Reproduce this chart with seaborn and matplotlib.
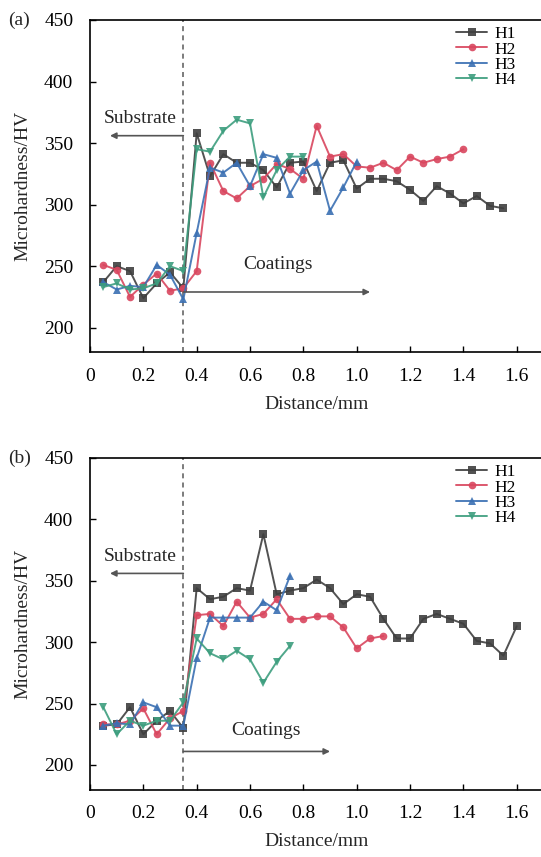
import numpy as np
import pandas as pd
import matplotlib
matplotlib.use("Agg")
import matplotlib.pyplot as plt
import seaborn as sns

# ---------------- data ----------------
series_names = ["H1", "H2", "H3", "H4"]

# panel (a)
a_H1 = [237, 250, 246, 224, 236, 245, 232, 358, 323, 341, 334, 334, 328, 314, 334, 335,
        311, 334, 336, 313, 321, 321, 319, 312, 303, 315, 309, 301, 307, 299, 297]
a_H2 = [251, 247, 225, 235, 244, 230, 232, 246, 334, 311, 305, 315, 321, 333, 329, 321,
        364, 339, 341, 331, 330, 334, 328, 339, 334, 337, 339, 345]
a_H3 = [237, 231, 234, 233, 251, 243, 223, 277, 330, 326, 334, 315, 341, 338, 309, 328,
        335, 295, 314, 335]
a_H4 = [233, 236, 231, 232, 236, 250, 246, 345, 343, 360, 369, 366, 306, 328, 339, 339]

# panel (b)
b_H1 = [232, 233, 247, 225, 236, 244, 230, 344, 335, 337, 344, 342, 388, 339, 342, 344,
        351, 344, 331, 339, 337, 319, 303, 303, 319, 323, 319, 315, 301, 299, 289, 313]
b_H2 = [233, 233, 236, 246, 225, 238, 244, 322, 323, 313, 333, 320, 323, 335, 319, 319,
        321, 321, 312, 295, 303, 305]
b_H3 = [232, 234, 233, 251, 247, 232, 232, 287, 320, 320, 320, 320, 333, 326, 354]
b_H4 = [247, 225, 236, 232, 236, 236, 251, 303, 291, 286, 293, 286, 267, 284, 297]

step = 0.05  # measuring interval (mm)
boundary = 0.35
x_ticks = [0, 0.2, 0.4, 0.6, 0.8, 1.0, 1.2, 1.4, 1.6]
x_tick_labels = ["0", "0.2", "0.4", "0.6", "0.8", "1.0", "1.2", "1.4", "1.6"]
y_ticks = [200, 250, 300, 350, 400, 450]

panels = {"(a)": [a_H1, a_H2, a_H3, a_H4], "(b)": [b_H1, b_H2, b_H3, b_H4]}


def to_frame(values_list):
    rows = []
    for name, vals in zip(series_names, values_list):
        for i, v in enumerate(vals):
            rows.append({"Distance": round(step * (i + 1), 3), "HV": v, "series": name})
    return pd.DataFrame(rows)


# ---------------- style ----------------
sns.set_style("ticks")
plt.rcParams["font.family"] = ["Liberation Serif", "DejaVu Serif"]
plt.rcParams["xtick.direction"] = "in"
plt.rcParams["ytick.direction"] = "in"

palette = {"H1": "#3f3f3f", "H2": "#d9465e", "H3": "#3b70b3", "H4": "#3d9e7e"}
markers = {"H1": "s", "H2": "o", "H3": "^", "H4": "v"}

W, H = 541, 857
fig = plt.figure(figsize=(W / 100, H / 100), dpi=100)

axes_px = {"(a)": (20, 352.3), "(b)": (458, 789.5)}
left_px = 90
px_per_unit = 266.7

annot = {
    "(a)": dict(sub_y=356, coat_text=(0.705, 251), coat_arrow_y=229, coat_head=1.05),
    "(b)": dict(sub_y=356, coat_text=(0.66, 228), coat_arrow_y=211, coat_head=0.90),
}

for tag, vals in panels.items():
    top, bot = axes_px[tag]
    xmax = 1.7
    ax = fig.add_axes([left_px / W, (H - bot) / H, xmax * px_per_unit / W, (bot - top) / H])
    df = to_frame(vals)
    sns.lineplot(data=df, x="Distance", y="HV", hue="series", style="series",
                 palette=palette, markers=markers, dashes=False, ax=ax,
                 linewidth=1.4, markersize=5.5, markeredgewidth=0, alpha=0.9)
    ax.set_xlim(0, xmax)
    ax.set_ylim(180, 450)
    ax.set_xticks(x_ticks)
    ax.set_xticklabels(x_tick_labels)
    ax.set_yticks(y_ticks)
    ax.tick_params(labelsize=14, length=4, width=1, colors="black")
    ax.tick_params(axis="y", pad=12)
    ax.tick_params(axis="x", pad=11)
    for s in ["left", "bottom", "top"]:
        ax.spines[s].set_linewidth(1.2)
        ax.spines[s].set_color("black")
    ax.spines["right"].set_visible(False)
    ax.set_xlabel("Distance/mm", fontsize=14, labelpad=8)
    ax.set_ylabel("Microhardness/HV", fontsize=14, labelpad=9)

    ax.axvline(boundary, color="#666666", lw=1.2, ls=(0, (3, 2.5)), zorder=0)

    a = annot[tag]
    ax.annotate("", xy=(0.075, a["sub_y"]), xytext=(boundary, a["sub_y"]),
                arrowprops=dict(arrowstyle="-|>", color="#555555", lw=1.2,
                                mutation_scale=9, shrinkA=0, shrinkB=0))
    ax.text(0.19, a["sub_y"] + 14, "Substrate", fontsize=14, ha="center", va="center")
    ax.annotate("", xy=(a["coat_head"], a["coat_arrow_y"]), xytext=(boundary, a["coat_arrow_y"]),
                arrowprops=dict(arrowstyle="-|>", color="#555555", lw=1.2,
                                mutation_scale=9, shrinkA=0, shrinkB=0))
    ax.text(a["coat_text"][0], a["coat_text"][1], "Coatings", fontsize=14,
            ha="center", va="center")

    leg = ax.legend(loc="upper left", bbox_to_anchor=((450 - left_px) / (xmax * px_per_unit), 1.0),
                    frameon=False, fontsize=12.5, labelspacing=-0.05, handlelength=1.8,
                    handletextpad=0.4, borderaxespad=0.2, borderpad=0.15)
    for t in leg.get_texts():
        t.set_color("black")

    fig.text(8 / W, 1 - top / H, tag, fontsize=14, ha="left", va="center")

fig.savefig("out.png", dpi=100)
